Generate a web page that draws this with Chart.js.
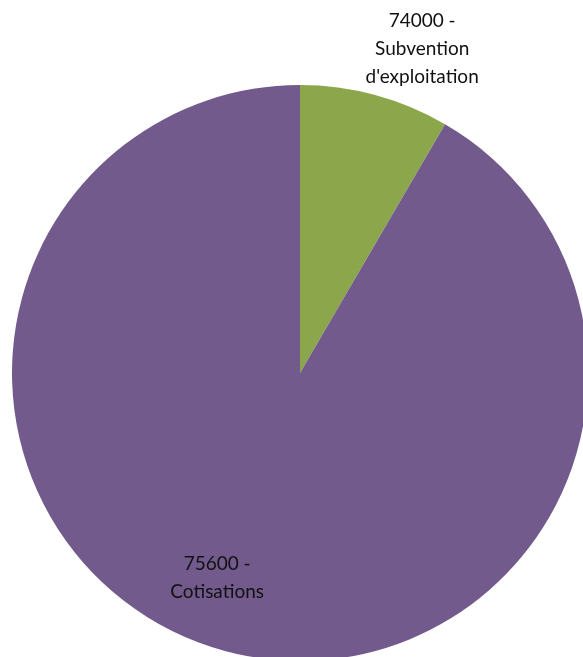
<!DOCTYPE html>
<html>
<head>
<meta charset="utf-8">
<script src="https://cdn.jsdelivr.net/npm/chart.js@4/dist/chart.umd.min.js"></script>
<style>
    html, body { margin: 0; padding: 0; background: #fff; overflow: hidden; width: 583px; height: 657px; }
    #wrap { position: absolute; left: 0; top: 0; width: 600px; height: 672px; }
</style>
</head>
<body>
<div id="wrap"><canvas id="pieChart" width="600" height="672"></canvas></div>
<script>
// Chart data
const categories = ['74000 - Subvention d\'exploitation', '75600 - Cotisations'];
const labelLines = [['74000 -', 'Subvention', 'd\'exploitation'], ['75600 -', 'Cotisations']];
const values = [8.4, 91.6];
const colors = ['#8BA64B', '#725A8C'];

// label placement: distance from centre (fraction of radius) and small nudges
const labelRadius = [1.2, 0.77];
const labelNudge = [[32, 10], [-25, -9]];

const sliceLabels = {
    id: 'sliceLabels',
    afterDraw(chart) {
        const ctx = chart.ctx;
        const meta = chart.getDatasetMeta(0);
        ctx.save();
        ctx.font = '19px Lato, "Open Sans", sans-serif';
        ctx.fillStyle = '#111';
        ctx.textAlign = 'center';
        ctx.textBaseline = 'middle';
        meta.data.forEach((arc, i) => {
            const mid = (arc.startAngle + arc.endAngle) / 2;
            const r = arc.outerRadius * labelRadius[i];
            const x = arc.x + Math.cos(mid) * r + labelNudge[i][0];
            const y = arc.y + Math.sin(mid) * r + labelNudge[i][1];
            const lines = labelLines[i];
            const lh = 28;
            lines.forEach((line, j) => {
                ctx.fillText(line, x, y + (j - (lines.length - 1) / 2) * lh);
            });
        });
        ctx.restore();
    }
};

new Chart(document.getElementById('pieChart').getContext('2d'), {
    type: 'pie',
    data: {
        labels: categories,
        datasets: [{
            data: values,
            backgroundColor: colors,
            borderWidth: 0
        }]
    },
    options: {
        responsive: false,
        animation: false,
        layout: {
            padding: { left: 12, top: 85, right: 12, bottom: 11 }
        },
        plugins: {
            legend: { display: false },
            tooltip: { enabled: false }
        }
    },
    plugins: [sliceLabels]
});
</script>
</body>
</html>
